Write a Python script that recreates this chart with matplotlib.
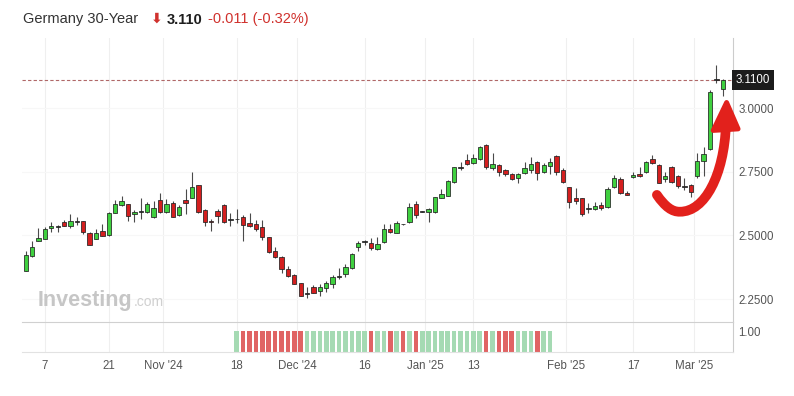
import numpy as np
import matplotlib
matplotlib.use("Agg")
import matplotlib.pyplot as plt
import matplotlib.transforms as mtransforms
from matplotlib.path import Path
from matplotlib.patches import PathPatch, Polygon

plt.rcParams['font.family'] = ['Liberation Sans', 'DejaVu Sans']

# Germany 30Y yield, daily candles (2 Oct 2024 .. 7 Mar 2025)
opens = [2.361, 2.419, 2.477, 2.487, 2.529, 2.537, 2.553, 2.537, 2.555, 2.556,
         2.511, 2.487, 2.519, 2.500, 2.589, 2.618, 2.622, 2.583, 2.591, 2.591,
         2.574, 2.639, 2.592, 2.626, 2.580, 2.639, 2.648, 2.697, 2.600, 2.558,
         2.597, 2.620, 2.560, 2.563, 2.573, 2.550, 2.545, 2.534, 2.493, 2.439,
         2.414, 2.367, 2.345, 2.312, 2.271, 2.296, 2.283, 2.295, 2.309, 2.338,
         2.347, 2.371, 2.454, 2.475, 2.472, 2.448, 2.474, 2.526, 2.511, 2.543,
         2.551, 2.623, 2.592, 2.592, 2.592, 2.648, 2.655, 2.710, 2.764, 2.796,
         2.784, 2.799, 2.855, 2.766, 2.776, 2.758, 2.741, 2.726, 2.746, 2.757,
         2.788, 2.748, 2.772, 2.811, 2.757, 2.689, 2.647, 2.646, 2.603, 2.603,
         2.621, 2.613, 2.689, 2.721, 2.668, 2.729, 2.741, 2.750, 2.799, 2.777,
         2.720, 2.770, 2.733, 2.691, 2.697, 2.733, 2.793, 2.839, 3.113, 3.073]
highs = [2.440, 2.479, 2.530, 2.534, 2.553, 2.540, 2.560, 2.583, 2.571, 2.558,
         2.515, 2.526, 2.545, 2.593, 2.639, 2.656, 2.625, 2.598, 2.646, 2.632,
         2.634, 2.665, 2.644, 2.636, 2.620, 2.682, 2.748, 2.697, 2.605, 2.563,
         2.604, 2.624, 2.587, 2.602, 2.580, 2.587, 2.560, 2.560, 2.495, 2.453,
         2.419, 2.380, 2.347, 2.315, 2.299, 2.306, 2.311, 2.321, 2.345, 2.371,
         2.387, 2.430, 2.479, 2.483, 2.489, 2.492, 2.543, 2.543, 2.555, 2.545,
         2.628, 2.635, 2.594, 2.607, 2.652, 2.683, 2.717, 2.770, 2.787, 2.818,
         2.818, 2.852, 2.857, 2.822, 2.780, 2.762, 2.746, 2.746, 2.787, 2.807,
         2.792, 2.783, 2.805, 2.815, 2.764, 2.691, 2.685, 2.648, 2.628, 2.630,
         2.632, 2.691, 2.737, 2.728, 2.673, 2.750, 2.770, 2.792, 2.816, 2.780,
         2.750, 2.774, 2.737, 2.724, 2.701, 2.822, 2.846, 3.071, 3.169, 3.115]
lows = [2.360, 2.416, 2.477, 2.485, 2.515, 2.515, 2.535, 2.530, 2.541, 2.506,
        2.462, 2.485, 2.496, 2.497, 2.587, 2.617, 2.555, 2.553, 2.563, 2.587,
        2.567, 2.589, 2.589, 2.572, 2.576, 2.583, 2.646, 2.587, 2.537, 2.519,
        2.550, 2.550, 2.538, 2.547, 2.479, 2.534, 2.519, 2.482, 2.430, 2.411,
        2.354, 2.338, 2.310, 2.261, 2.255, 2.273, 2.262, 2.278, 2.293, 2.328,
        2.337, 2.367, 2.440, 2.464, 2.443, 2.444, 2.471, 2.509, 2.509, 2.541,
        2.549, 2.569, 2.590, 2.554, 2.588, 2.645, 2.655, 2.707, 2.757, 2.778,
        2.780, 2.795, 2.759, 2.757, 2.733, 2.735, 2.717, 2.707, 2.742, 2.744,
        2.717, 2.745, 2.740, 2.737, 2.704, 2.606, 2.625, 2.578, 2.589, 2.598,
        2.600, 2.608, 2.688, 2.663, 2.657, 2.726, 2.730, 2.744, 2.782, 2.705,
        2.710, 2.706, 2.685, 2.678, 2.652, 2.725, 2.733, 2.835, 3.097, 3.047]
closes = [2.423, 2.456, 2.490, 2.525, 2.538, 2.534, 2.537, 2.556, 2.554, 2.515,
          2.462, 2.511, 2.496, 2.587, 2.623, 2.635, 2.575, 2.593, 2.592, 2.622,
          2.606, 2.592, 2.623, 2.574, 2.613, 2.628, 2.689, 2.593, 2.551, 2.551,
          2.577, 2.554, 2.562, 2.563, 2.541, 2.538, 2.526, 2.493, 2.434, 2.415,
          2.367, 2.341, 2.311, 2.263, 2.270, 2.275, 2.297, 2.312, 2.335, 2.338,
          2.377, 2.427, 2.472, 2.475, 2.450, 2.466, 2.525, 2.513, 2.549, 2.543,
          2.613, 2.580, 2.592, 2.604, 2.650, 2.661, 2.712, 2.767, 2.765, 2.781,
          2.804, 2.846, 2.768, 2.782, 2.750, 2.740, 2.721, 2.741, 2.765, 2.780,
          2.744, 2.776, 2.790, 2.750, 2.708, 2.632, 2.636, 2.584, 2.603, 2.617,
          2.608, 2.683, 2.724, 2.665, 2.659, 2.737, 2.733, 2.789, 2.785, 2.707,
          2.734, 2.710, 2.694, 2.690, 2.672, 2.792, 2.819, 3.064, 3.112, 3.110]

# lower panel: every bar is 1.00, G = green, R = red
vol_first = 33
vol_colors = "GRRRRRRRRRRGGGGGGGGGGRGGRGRGRGGGGGGGGGGRGRRRGGGRGG"

tick_pos = [3, 13, 21.5, 33, 42.5, 53, 62.5, 70, 84.5, 95, 104.5]
tick_labels = ['7', '21', "Nov '24", '18', "Dec '24", '16', "Jan '25", '13',
               "Feb '25", '17', "Mar '25"]
y_ticks = [2.25, 2.50, 2.75, 3.00]

last_price = 3.110
change = -0.011
change_pct = -0.32

W, H = 794, 396
fig = plt.figure(figsize=(W / 100, H / 100), dpi=100)
ax = fig.add_axes([22 / W, 1 - 322 / H, 711 / W, 284 / H])
axv = fig.add_axes([22 / W, 1 - 352 / H, 711 / W, 30 / H], sharex=ax)

o = np.array(opens)
h = np.array(highs)
l = np.array(lows)
c = np.array(closes)
x = np.arange(len(o))

flat = np.abs(c - o) < 0.005
body_col = np.where(flat, '#3a3a3a', np.where(c > o, '#3fd03f', '#d41f1f'))
ax.vlines(x, l, h, color='#4a4a4a', lw=0.8, zorder=2)
ax.bar(x, np.maximum(np.abs(c - o), 0.003), bottom=np.minimum(o, c), width=0.68,
       color=body_col, edgecolor='#222222', linewidth=0.55, zorder=3)

ax.axhline(last_price, color='#b06868', lw=0.8, ls=(0, (3, 2)), zorder=1)
trans = mtransforms.blended_transform_factory(ax.transAxes, ax.transData)
ax.text(1.004, last_price, f"{last_price:.4f}", transform=trans, color='white',
        fontsize=8.3, ha='left', va='center',
        bbox=dict(boxstyle='square,pad=0.35', fc='#1c1c1c', ec='none'))

ax.set_xlim(-0.58, 110.6)
ax.set_ylim(2.160, 3.275)
ax.yaxis.tick_right()
ax.set_yticks(y_ticks)
ax.set_yticklabels([f"{v:.4f}" for v in y_ticks])
ax.tick_params(axis='y', length=0, pad=4, labelsize=8.3, labelcolor='#555555')
ax.tick_params(axis='x', length=0, labelbottom=False)
ax.set_xticks(tick_pos)
ax.grid(axis='x', color='#efefef', lw=0.8)
ax.grid(axis='y', color='#f7f7f7', lw=0.8)
ax.set_axisbelow(True)
for s in ['top', 'left', 'bottom']:
    ax.spines[s].set_visible(False)
ax.spines['right'].set_color('#cccccc')

# lower panel
vx = np.arange(vol_first, vol_first + len(vol_colors))
vcol = ['#a5dab3' if k == 'G' else '#e06464' for k in vol_colors]
axv.bar(vx, np.ones(len(vx)), width=0.72, color=vcol, zorder=2)
axv.set_ylim(0, 1.43)
axv.yaxis.tick_right()
axv.set_yticks([1.0])
axv.set_yticklabels(['1.00'])
axv.tick_params(axis='y', length=0, pad=4, labelsize=8.3, labelcolor='#555555')
axv.set_xticks(tick_pos)
axv.set_xticklabels(tick_labels)
axv.tick_params(axis='x', length=0, pad=6, labelsize=8.3, labelcolor='#555555')
axv.grid(axis='x', color='#efefef', lw=0.8)
axv.set_axisbelow(True)
axv.spines['left'].set_visible(False)
axv.spines['top'].set_color('#d0d0d0')
axv.spines['bottom'].set_color('#e2e2e2')
axv.spines['right'].set_color('#cccccc')

# hand drawn red arrow
verts = [(98.7, 2.659), (100.0, 2.612), (101.1, 2.592), (102.3, 2.593),
         (106.2, 2.592), (109.2, 2.737), (109.5, 2.935)]
codes = [Path.MOVETO] + [Path.CURVE4] * 6
ax.add_patch(PathPatch(Path(verts, codes), fc='none', ec='#e2211c', lw=7,
                       capstyle='round', clip_on=False, zorder=5))
ax.add_patch(Polygon([(107.5, 2.912), (109.6, 3.022), (111.4, 2.918)],
                     closed=True, fc='#e2211c', ec='#e2211c', lw=3.5,
                     joinstyle='round', clip_on=False, zorder=5))

# watermark
fig.text(38 / W, 1 - 306 / H, "Investing", fontsize=15.5, fontweight='bold',
         color='#c6c6c6', va='baseline')
fig.text(134 / W, 1 - 306 / H, ".com", fontsize=10, color='#d0d0d0', va='baseline')

# header
ty = 1 - 23.5 / H
fig.text(23 / W, ty, "Germany 30-Year", fontsize=10.5, color='#333333', va='baseline')
fig.text(150.5 / W, ty + 0.002, "\u2b07", fontsize=10, fontweight='bold',
         color='#d0312d', va='baseline', family='DejaVu Sans')
fig.text(167 / W, ty, f"{last_price:.3f}", fontsize=10.5, fontweight='bold',
         color='#1e1e1e', va='baseline')
fig.text(208 / W, ty, f"{change:.3f} ({change_pct:.2f}%)", fontsize=10.5,
         color='#d0312d', va='baseline')

fig.savefig('out.png', dpi=100)
